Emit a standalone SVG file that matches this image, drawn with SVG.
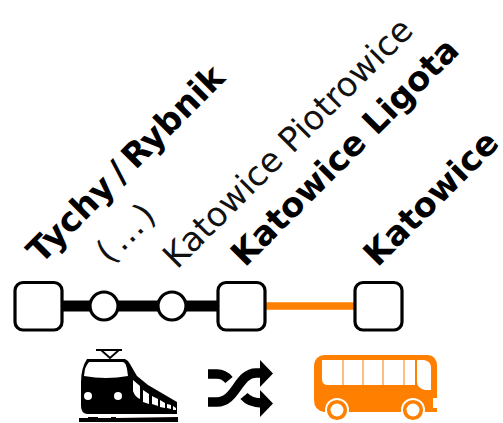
<svg xmlns="http://www.w3.org/2000/svg" width="503" height="423" viewBox="0 0 503 423">
<style>
.st{fill:#fff;stroke:#000;stroke-width:3.2}
.lb{font-family:"DejaVu Sans",sans-serif;font-size:33.800px;fill:#000}
.b{font-weight:700}
.l{font-weight:400;fill:#111}
</style>
<rect width="503" height="423" fill="#fff"/>
<g id="connectors">
<line x1="62" y1="306" x2="218" y2="306" stroke="#000" stroke-width="11"/>
<line x1="265" y1="306" x2="354" y2="306" stroke="#ff7f00" stroke-width="7.500"/>
</g>
<g id="node-tychy"><rect class="st" x="15" y="282.500" width="47" height="47.500" rx="8"/><text class="lb b" transform="translate(41 265) rotate(-45)">Tychy<tspan dx="7">/</tspan><tspan dx="7">Rybnik</tspan></text></g>
<g id="node-dots"><circle class="st" cx="104" cy="306" r="14"/><text class="lb l" transform="translate(110 265) rotate(-45)">(<tspan dx="4">…</tspan><tspan dx="3">)</tspan></text></g>
<g id="node-piotrowice"><circle class="st" cx="172" cy="306" r="14"/><text class="lb l" transform="translate(177 270) rotate(-45)">Katowice Piotrowice</text></g>
<g id="node-ligota"><rect class="st" x="218" y="282.500" width="47" height="47.500" rx="8"/><text class="lb b" transform="translate(245 268) rotate(-45)">Katowice Ligota</text></g>
<g id="node-katowice"><rect class="st" x="355" y="282.500" width="47" height="47.500" rx="8"/><text class="lb b" transform="translate(377.500 268) rotate(-45)">Katowice</text></g>
<g id="train">
<path d="M96 350H122M101 350L110 358L119 350" fill="none" stroke="#000" stroke-width="1.800"/>
<path d="M87 359H125Q128 360 130 364L137 376L148 385L177 402V414H87Q81 413 81 406V382Q81 368 87 359Z" fill="#000"/>
<path d="M89 362H123Q126 363 127 369L128 376Q106 380 84 376L85 369Q87 364 89 362Z" fill="#fff"/>
<path d="M133 380L140 386V399Q135 397 133 391Z M143 390L149 394V404L143 402Z M152 396L158 399V406L152 404Z M160 400L165 403V408L160 407Z M167 404L171 405V409L167 408Z M173 406L176 408V410L173 410Z" fill="#fff"/>
<circle cx="88" cy="396" r="4" fill="#fff"/><circle cx="118" cy="396" r="4" fill="#fff"/>
<path d="M79 422V418H88V417H98V418H111V417H116V418L178 417V422Z" fill="#000"/>
</g>
<g id="shuffle" fill="none" stroke="#000" stroke-width="9.500">
<path d="M208 402H217C236 402 238 373 256 373H262"/>
<path d="M208 374H217Q224 374 229 380"/>
<path d="M244 396Q250 403 262 403"/>
<path d="M260 360L273 373.500L260 387ZM260 390L273 403.500L260 417Z" fill="#000" stroke="none"/>
</g>
<g id="bus">
<path d="M324 355H428Q437 356 437 366V398H433V408H437V412H324Q314 410 314 400V365Q315 356 324 355Z" fill="#ff7f00"/>
<path d="M322 360H415V385H328Q322 385 322 379Z M417 360H424Q431 361 431 368V390H425Q417 388 417 382Z" fill="#fff"/>
<path d="M343 360V385M363 360V385M383 360V385M404 360V385" stroke="#ff7f00" stroke-width="1"/>
<circle cx="337" cy="410" r="12" fill="#fff"/><circle cx="413" cy="410" r="12" fill="#fff"/>
<circle cx="337" cy="410" r="8.300" fill="#fff" stroke="#ff7f00" stroke-width="3.600"/>
<circle cx="413" cy="410" r="8.300" fill="#fff" stroke="#ff7f00" stroke-width="3.600"/>
</g>
</svg>
